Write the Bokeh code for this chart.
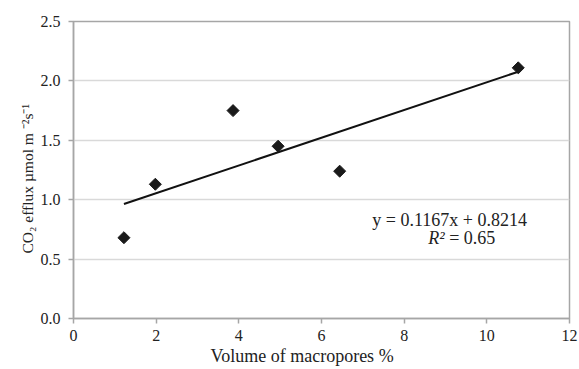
import math
from bokeh.plotting import figure
from bokeh.models import Range1d, Label, FixedTicker, NumeralTickFormatter, ColumnDataSource, Title
from bokeh.embed import file_html
from bokeh.resources import INLINE

# Data
macropores = [1.22, 1.98, 3.86, 4.95, 6.44, 10.76]
co2_efflux = [0.68, 1.13, 1.75, 1.45, 1.24, 2.11]
slope = 0.1167
intercept = 0.8214
r_squared = 0.65
x_ticks = [0, 2, 4, 6, 8, 10, 12]
y_ticks = [0.0, 0.5, 1.0, 1.5, 2.0, 2.5]

FONT = "Liberation Serif"
AXFONT = "'Liberation Serif', serif"
GRAY = "#a6a6a6"
TXT = "#222222"

p = figure(width=579, height=369, output_backend="svg", toolbar_location=None,
           x_range=Range1d(0, 12), y_range=Range1d(0, 2.5),
           min_border_left=73, min_border_right=10, min_border_top=21, min_border_bottom=51)

p.outline_line_color = GRAY
p.outline_line_width = 1.5
p.xgrid.grid_line_color = None
p.ygrid.grid_line_color = "#d9d9d9"
p.ygrid.grid_line_width = 1.5

xa = p.xaxis[0]
ya = p.yaxis[0]
for ax in (xa, ya):
    ax.axis_line_color = GRAY
    ax.axis_line_width = 1.5
    ax.major_tick_line_color = GRAY
    ax.major_tick_line_width = 1.5
    ax.major_tick_out = 5
    ax.major_tick_in = 0
    ax.minor_tick_line_color = None
    ax.major_label_text_color = TXT
    ax.major_label_text_font_size = "16px"
    ax.major_label_text_font = FONT

xa.ticker = FixedTicker(ticks=x_ticks)
ya.ticker = FixedTicker(ticks=y_ticks)
ya.formatter = NumeralTickFormatter(format="0.0")
xa.major_label_standoff = 6
ya.major_label_standoff = 8

# Trend line from fitted equation across data span
xs = [min(macropores), max(macropores)]
ys = [slope * x + intercept for x in xs]
p.line(xs, ys, line_color="#111111", line_width=2)

src = ColumnDataSource(dict(x=macropores, y=co2_efflux))
p.scatter("x", "y", source=src, marker="square", size=8.5, angle=math.pi / 4,
          fill_color="#1a1a1a", line_color="#1a1a1a")

# Equation labels
p.add_layout(Label(x=9.1, y=0.83, text=f"y = {slope}x + {intercept}", text_font=FONT,
                   text_font_size="18px", text_align="center", text_baseline="middle",
                   text_color=TXT))
p.add_layout(Label(x=8.98, y=0.675, text="R²", text_font=FONT, text_font_style="italic",
                   text_font_size="18px", text_align="right", text_baseline="middle",
                   text_color=TXT))
p.add_layout(Label(x=8.98, y=0.675, text="\u00a0= " + str(r_squared), text_font=FONT,
                   text_font_size="18px", text_align="left", text_baseline="middle",
                   text_color=TXT))

# Axis titles
p.add_layout(Title(text="CO₂ efflux µmol m ⁻²s⁻¹", align="left", offset=65,
                   text_font=AXFONT, text_font_size="15.5px", text_font_style="normal",
                   text_color=TXT, standoff=4), "left")
p.add_layout(Title(text="Volume of macropores %", align="left", offset=137,
                   text_font=AXFONT, text_font_size="18px", text_font_style="normal",
                   text_color=TXT, standoff=0), "below")

open("out.html", "w").write(file_html(p, INLINE))
